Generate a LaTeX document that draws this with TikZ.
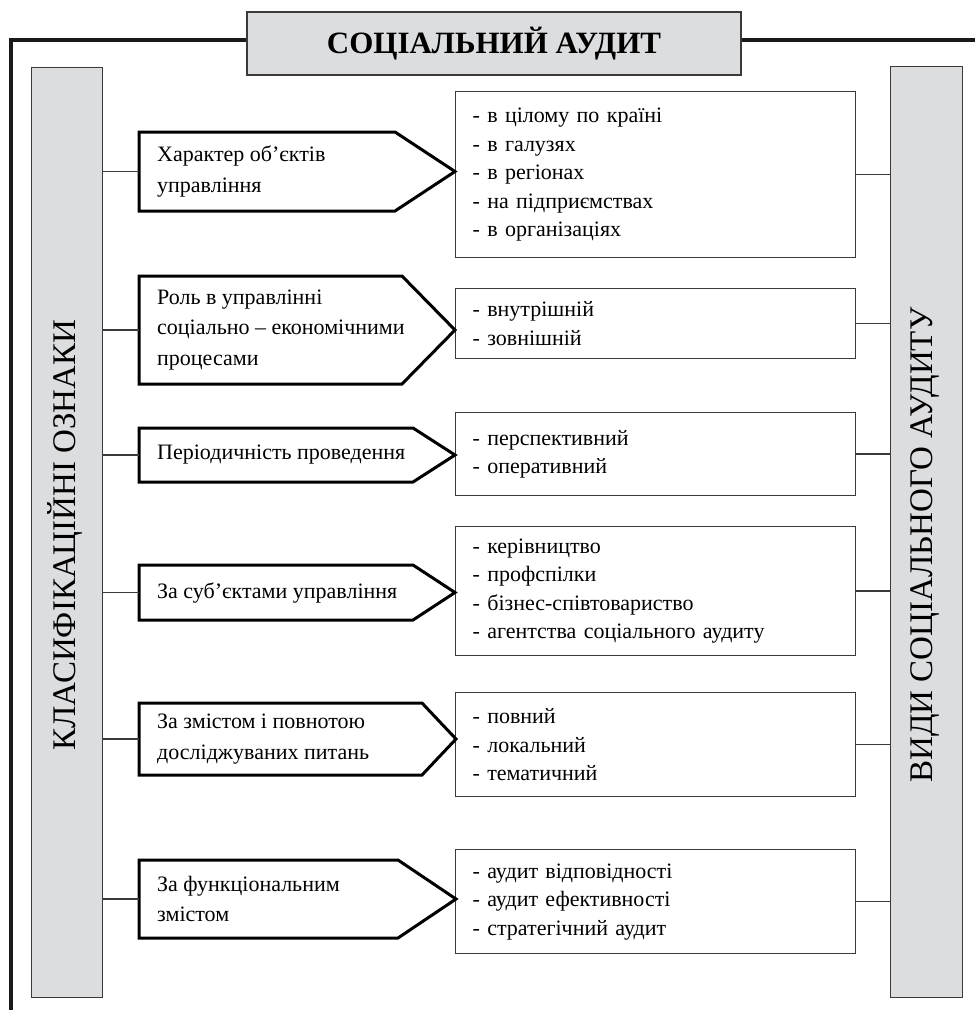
\documentclass[tikz,border=0pt]{standalone}
\usepackage{fontspec}
\setmainfont{Liberation Serif}
\definecolor{barg}{HTML}{DCDDDF}
\definecolor{edgec}{HTML}{3A3A3A}
\newcommand\ArrowBox[5]{%
  \draw[arrowshape] (139,#2) -- (#4,#2) -- (#5,{(#2+#3)/2}) -- (#4,#3) -- (139,#3) -- cycle;
  \coordinate (#1w) at (139,{(#2+#3)/2});
  \coordinate (#1e) at (#5,{(#2+#3)/2});
}
\begin{document}
\begin{tikzpicture}[x=1pt,y=-1pt,
  grayblock/.style={draw=edgec, line width=1.3pt, fill=barg, inner sep=0pt},
  listbox/.style={draw=edgec, line width=1.3pt, fill=white, minimum width=400pt,
    text width=366pt, align=left, inner xsep=17pt, inner ysep=0pt,
    font=\fontsize{22}{28.5}\selectfont, anchor=north west},
  arrowshape/.style={draw=black, line width=3pt, line join=miter, fill=white},
  arrowtext/.style={anchor=west, align=left, font=\fontsize{22}{30.5}\selectfont, inner sep=0pt},
  link/.style={draw=edgec, line width=1.4pt},
  outerline/.style={draw=black!90, line width=4.5pt, line join=miter},
  bartext/.style={rotate=90, font=\fontsize{33}{33}\selectfont, inner sep=0pt}]
\useasboundingbox (0,0) rectangle (975,1010);

% title and frame
\node[grayblock, minimum width=494pt, minimum height=63pt,
  font=\fontsize{31}{31}\selectfont\bfseries] (title) at (494,43.5) {СОЦІАЛЬНИЙ АУДИТ};
\coordinate (fl) at (11,40);
\coordinate (fb) at (11,1010);
\coordinate (fr) at (975,40);
\draw[outerline] (title.west |- fl) -- (fl) -- (fb);
\draw[outerline] (title.east |- fr) -- (fr);

% side bars
\node[grayblock, minimum width=71pt, minimum height=930pt, anchor=north west] (lbar) at (31,67) {};
\node[bartext] (lbart) at (65,535) {КЛАСИФІКАЦІЙНІ ОЗНАКИ};
\node[grayblock, minimum width=72pt, minimum height=931pt, anchor=north west] (rbar) at (890,66) {};
\node[bartext] (rbart) at (925,545) {ВИДИ СОЦІАЛЬНОГО АУДИТУ};

% lists
\node[listbox, minimum height=166pt] (l1) at (455,91) {- в цілому по країні\\- в галузях\\- в регіонах\\- на підприємствах\\- в організаціях};
\node[listbox, minimum height=70pt] (l2) at (455,288) {- внутрішній\\- зовнішній};
\node[listbox, minimum height=83pt] (l3) at (455,412) {- перспективний\\- оперативний};
\node[listbox, minimum height=129pt] (l4) at (455,526) {- керівництво\\- профспілки\\- бізнес-співтовариство\\- агентства соціального аудиту};
\node[listbox, minimum height=104pt] (l5) at (455,692) {- повний\\- локальний\\- тематичний};
\node[listbox, minimum height=104pt] (l6) at (455,849) {- аудит відповідності\\- аудит ефективності\\- стратегічний аудит};

% arrows
\ArrowBox{a1}{132}{211}{395}{455}
\ArrowBox{a2}{276}{384}{402}{455}
\ArrowBox{a3}{428}{482}{413}{455}
\ArrowBox{a4}{565}{620}{413}{455}
\ArrowBox{a5}{703}{775}{422}{456}
\ArrowBox{a6}{860}{938}{398}{456}
\node[arrowtext] (t1) at (157,171.5) {Характер об’єктів\\управління};
\node[arrowtext] (t2) at (157,330) {Роль в управлінні\\соціально – економічними\\процесами};
\node[arrowtext] (t3) at (157,455) {Періодичність проведення};
\node[arrowtext] (t4) at (157,592.5) {За суб’єктами управління};
\node[arrowtext] (t5) at (157,739) {За змістом і повнотою\\досліджуваних питань};
\node[arrowtext] (t6) at (157,899) {За функціональним\\змістом};

% connectors left
\foreach \a in {a1,a2,a3,a4,a5,a6}{
  \draw[link] (lbar.east |- \a w) -- (\a w);
}
% connectors right
\foreach \l in {l1,l2,l3,l4,l5,l6}{
  \draw[link] (\l.east) -- (rbar.west |- \l.east);
}
\end{tikzpicture}
\end{document}
